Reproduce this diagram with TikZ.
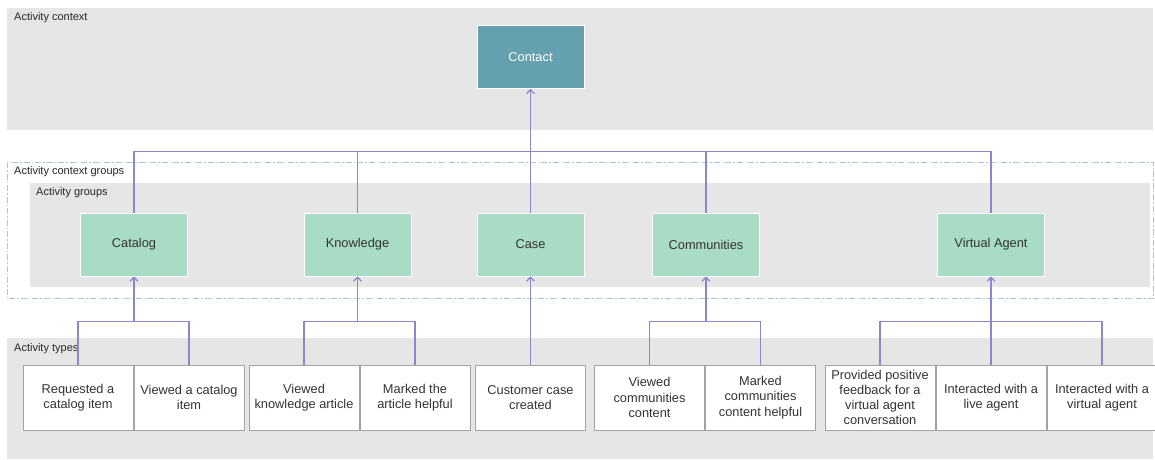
\documentclass[tikz,border=0pt]{standalone}
\usepackage{fontspec}
\setmainfont{Liberation Sans}
\usepackage{xcolor}
\usetikzlibrary{positioning,arrows.meta}

\definecolor{panelgray}{HTML}{E6E6E6}
\definecolor{contactteal}{HTML}{65A0AF}
\definecolor{groupmint}{HTML}{A8DCC5}
\definecolor{linkpurple}{HTML}{8C86CA}
\definecolor{boxgray}{HTML}{A3A3A3}
\definecolor{dashteal}{HTML}{A9CACE}
\definecolor{textgray}{HTML}{333333}

\begin{document}
\begin{tikzpicture}[
        x=1pt, y=-1pt,
        every node/.style={font=\fontsize{12.8}{15.2}\selectfont, text=textgray},
        panel/.style={fill=panelgray, draw=none},
        paneltitle/.style={
            anchor=north west,
            inner sep=0pt,
            font=\fontsize{11}{12}\selectfont,
            text=black!85
        },
        context/.style={
            rectangle,
            draw=white,
            line width=0.6pt,
            fill=contactteal,
            text=white,
            minimum width=107pt,
            minimum height=63pt
        },
        group/.style={
            rectangle,
            draw=white,
            line width=0.6pt,
            fill=groupmint,
            minimum width=107pt,
            minimum height=63pt
        },
        actype/.style={
            rectangle,
            draw=boxgray,
            line width=1pt,
            fill=white,
            align=center,
            inner sep=1pt,
            minimum width=110pt,
            minimum height=65pt
        },
        >={Straight Barb[length=4pt,width=8pt]},
        link/.style={draw=linkpurple, line width=1.3pt},
        arrow/.style={link, ->}
    ]
        \fill[white] (0,0) rectangle (1155,459);
        \useasboundingbox (0,0) rectangle (1155,459);

        % Panels
        \fill[panel] (7,8) rectangle (1153,130);
        \node[paneltitle] at (14,12) {Activity context};
        \draw[draw=dashteal, line width=0.9pt, dash pattern=on 6pt off 2pt on 1.5pt off 2pt] (7,162) rectangle (1153,298);
        \node[paneltitle] at (14,166) {Activity context groups};
        \fill[panel] (30,183) rectangle (1150,287);
        \node[paneltitle] at (36,187) {Activity groups};
        \fill[panel] (7,338) rectangle (1153,459);
        \node[paneltitle] at (14,343) {Activity types};

        % Context
        \node[context] (contact) at (530.5,57) {Contact};
        \coordinate[below=63pt of contact] (bus);

        % Groups
        \node[group] (catalog) at (134,244.5) {Catalog};
        \node[group] (knowledge) at (357.5,244.5) {Knowledge};
        \node[group] (case) at (530.5,244.5) {Case};
        \node[group] (communities) at (706,244.5) {Communities};
        \node[group] (agent) at (991,244.5) {Virtual Agent};

        % Activity types
        \node[actype] (cat1) at (78,397.5) {Requested a\\catalog item};
        \node[actype, right=0pt of cat1] (cat2) {Viewed a catalog\\item};
        \node[actype] (kno1) at (304,397.5) {Viewed\\knowledge article};
        \node[actype, right=0pt of kno1] (kno2) {Marked the\\article helpful};
        \node[actype] (case1) at (530.5,397.5) {Customer case\\created};
        \node[actype] (com1) at (649.5,397.5) {Viewed\\communities\\content};
        \node[actype, right=0pt of com1] (com2) {Marked\\communities\\content helpful};
        \node[actype] (va1) at (880,397.5) {Provided positive\\feedback for a\\virtual agent\\conversation};
        \node[actype, right=0pt of va1] (va2) {Interacted with a\\live agent};
        \node[actype, right=0pt of va2] (va3) {Interacted with a\\virtual agent};

        % Groups to context
        \draw[link] (catalog.north) |- (bus) -| (agent.north);
        \draw[link] (knowledge.north) -- (knowledge.north |- bus);
        \draw[link] (communities.north) -- (communities.north |- bus);
        \draw[arrow] (case.north) -- (contact.south);

        % Types to groups
        \coordinate[below=45pt of catalog] (catj);
        \coordinate[below=45pt of knowledge] (knoj);
        \coordinate[below=45pt of communities] (comj);
        \coordinate[below=45pt of agent] (vaj);
        \draw[link] (cat1.north) |- (catj) -| (cat2.north);
        \draw[arrow] (catj) -- (catalog.south);
        \draw[link] (kno1.north) |- (knoj) -| (kno2.north);
        \draw[arrow] (knoj) -- (knowledge.south);
        \draw[arrow] (case1.north) -- (case.south);
        \draw[link] (com1.north) |- (comj) -| (com2.north);
        \draw[arrow] (comj) -- (communities.south);
        \draw[link] (va1.north) |- (vaj) -| (va3.north);
        \draw[link] (va2.north) -- (vaj);
        \draw[arrow] (vaj) -- (agent.south);

    \end{tikzpicture}
\end{document}
